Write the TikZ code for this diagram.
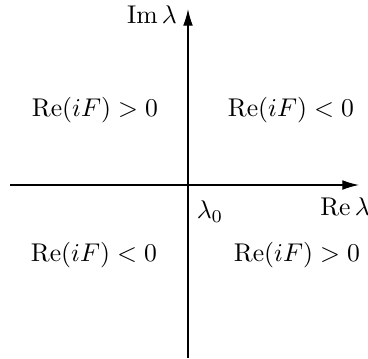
\documentclass[tikz,border=0pt]{standalone}
\usepackage{amsmath}
\usetikzlibrary{arrows.meta}
\begin{document}
\begin{tikzpicture}[x=0.39pt,y=-0.39pt,
    axis/.style={line width=0.5pt,-{Latex[length=6.5pt,width=3.8pt]}},
    region/.style={inner sep=0pt}]
        \useasboundingbox (0,0) rectangle (368,358);
        % axes
        \coordinate (O) at (188,185);
        \coordinate (left) at (10,185);
        \coordinate (right) at (359,185);
        \coordinate (bottom) at (188,358);
        \coordinate (top) at (188,9);
        \draw[axis] (left) -- (right);
        \draw[axis] (bottom) -- (top);
        \node[region] (imlabel) at (152,15) {$\operatorname{Im}\lambda$};
        \node[region] (relabel) at (345,207) {$\operatorname{Re}\lambda$};
        \node[region] (lam0) at (210,212) {$\lambda_0$};
        % regions
        \node[region] (ul) at (95,110) {$\operatorname{Re}(iF)>0$};
        \node[region] (ur) at (291,110) {$\operatorname{Re}(iF)<0$};
        \node[region] (ll) at (94,255) {$\operatorname{Re}(iF)<0$};
        \node[region] (lr) at (297,255) {$\operatorname{Re}(iF)>0$};
\end{tikzpicture}
\end{document}
